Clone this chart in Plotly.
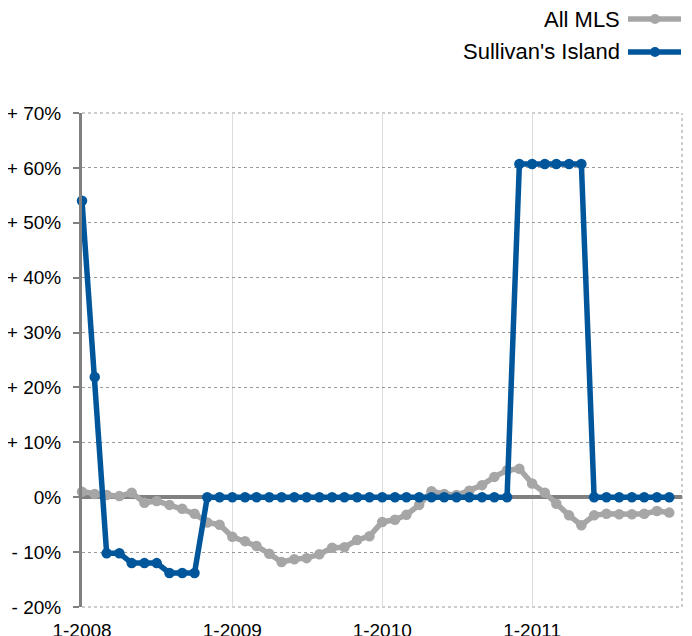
import plotly.graph_objects as go

# Monthly observations, Jan 2008 .. Dec 2011
months = [f"{y}-{m:02d}-01" for y in range(2008, 2012) for m in range(1, 13)]

all_mls = [1.0, 0.6, 0.4, 0.2, 0.8, -1.0, -0.7, -1.4, -2.1, -3.0,
           -4.6, -5.0, -7.2, -8.0, -8.9, -10.3, -11.8, -11.3, -11.1, -10.4,
           -9.2, -9.1, -7.8, -7.1, -4.5, -4.1, -3.2, -1.4, 1.1, 0.6,
           0.4, 1.2, 2.2, 3.7, 4.9, 5.2, 2.5, 0.8, -1.2, -3.3,
           -5.1, -3.3, -3.0, -3.1, -3.1, -3.0, -2.5, -2.8]

sullivans = [54.0, 21.9, -10.2, -10.2, -12.0, -12.0, -12.0, -13.8, -13.8, -13.8,
             0, 0, 0, 0, 0, 0, 0, 0, 0, 0,
             0, 0, 0, 0, 0, 0, 0, 0, 0, 0,
             0, 0, 0, 0, 0, 60.7, 60.7, 60.7, 60.7, 60.7,
             60.7, 0, 0, 0, 0, 0, 0, 0]

y_ticks = [70, 60, 50, 40, 30, 20, 10, 0, -10, -20]
y_labels = ["+ 70%", "+ 60%", "+ 50%", "+ 40%", "+ 30%", "+ 20%", "+ 10%", "0%", "- 10%", "- 20%"]
x_ticks = ["2008-01-01", "2009-01-01", "2010-01-01", "2011-01-01"]
x_labels = ["1-2008", "1-2009", "1-2010", "1-2011"]

series_names = ["All MLS", "Sullivan's Island"]
series_colors = ["#a6a6a6", "#00569b"]

FONT = "Liberation Sans, Arial, Helvetica, sans-serif"
W, H = 692, 636
OFF = 8  # page body margin
ML, MR, MT, MB = 74, 18, 105, 37

fig = go.Figure()
for name, vals, col in zip(series_names, [all_mls, sullivans], series_colors):
    fig.add_trace(go.Scatter(
        x=months, y=vals, name=name, mode="lines+markers",
        line=dict(color=col, width=5.5),
        marker=dict(color=col, size=10.5),
        showlegend=False, cliponaxis=False,
    ))

fig.update_layout(
    width=W, height=H,
    margin=dict(l=ML, r=MR, t=MT, b=MB, autoexpand=False),
    paper_bgcolor="white", plot_bgcolor="white",
    font=dict(family=FONT, size=19, color="black"),
)

fig.update_xaxes(
    range=["2008-01-01", "2012-01-01"],
    tickvals=x_ticks, ticktext=x_labels,
    showgrid=True, gridcolor="#dcdcdc", gridwidth=1,
    ticks="", ticklabelstandoff=10,
    showline=False, zeroline=False, automargin=False,
    tickfont=dict(size=19),
)
fig.update_yaxes(
    range=[-20, 70],
    tickvals=y_ticks, ticktext=y_labels,
    showgrid=True, gridcolor="#9a9a9a", gridwidth=1, griddash="dot",
    zeroline=True, zerolinecolor="#808080", zerolinewidth=4,
    showline=True, linecolor="#808080", linewidth=3,
    ticks="outside", ticklen=6, tickcolor="#808080", tickwidth=2,
    ticklabelstandoff=8, automargin=False,
    tickfont=dict(size=19),
)

# dotted frame on top, right and bottom
for x0, y0, x1, y1 in [(0, 1, 1, 1), (1, 0, 1, 1), (0, 0, 1, 0)]:
    fig.add_shape(type="line", xref="paper", yref="paper", x0=x0, y0=y0, x1=x1, y1=y1,
                  line=dict(color="#9a9a9a", width=1, dash="dot"), layer="below")

# custom legend (text on the left of the symbol); positions in screenshot pixels
pw = W - ML - MR
ph = H - MT - MB
def px_to_paper_x(px):
    return (px - OFF - ML) / pw
def px_to_paper_y(py):
    return (H - MB - (py - OFF)) / ph

legend_y = [19, 52]
for name, col, ly in zip(series_names, series_colors, legend_y):
    fig.add_annotation(x=px_to_paper_x(622), y=px_to_paper_y(ly), xref="paper", yref="paper",
                       text=name, showarrow=False, xanchor="right", yanchor="middle",
                       font=dict(size=22, color="black", family=FONT))
    fig.add_shape(type="line", xref="paper", yref="paper",
                  x0=px_to_paper_x(628), x1=px_to_paper_x(681),
                  y0=px_to_paper_y(ly), y1=px_to_paper_y(ly),
                  line=dict(color=col, width=5.5))
    fig.add_shape(type="circle", xref="paper", yref="paper",
                  x0=px_to_paper_x(650), x1=px_to_paper_x(660),
                  y0=px_to_paper_y(ly + 5), y1=px_to_paper_y(ly - 5),
                  fillcolor=col, line=dict(color=col, width=0))

fig.write_html("out.html")
